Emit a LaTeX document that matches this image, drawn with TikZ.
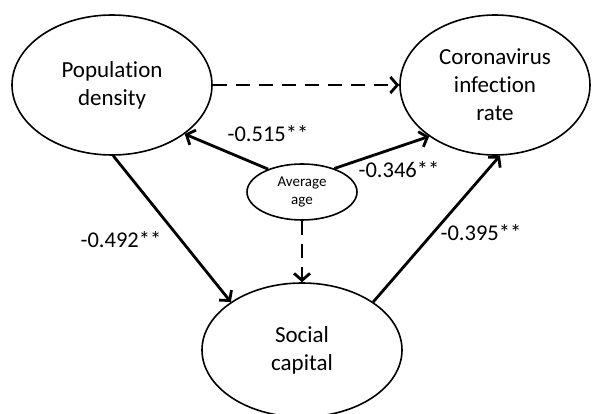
\documentclass[tikz,border=0pt]{standalone}
\usepackage{fontspec}
\setmainfont[Ligatures=NoCommon]{Carlito}
\usetikzlibrary{shapes.geometric,arrows.meta}
\begin{document}
\begin{tikzpicture}[x=1pt,y=-1pt,
  bigell/.style={ellipse,draw,line width=1.6pt,minimum width=200pt,minimum height=140pt,inner sep=0pt,align=center,font=\fontsize{23}{28}\selectfont},
  smallell/.style={ellipse,draw,line width=1.6pt,minimum width=110pt,minimum height=56pt,inner sep=0pt,align=center,font=\fontsize{15}{18}\selectfont},
  conn/.style={line width=2.8pt,-{Straight Barb[length=7pt,width=16pt]}},
  dconn/.style={conn,dash pattern=on 14pt off 9pt},
  lab/.style={font=\fontsize{22.5}{26}\selectfont,inner sep=0pt}]
\useasboundingbox (0,0) rectangle (592,414);
\node[bigell] (pd) at (112,85) {Population\\density};
\node[bigell,minimum width=190pt] (cv) at (495,85) {Coronavirus\\infection\\rate};
\node[bigell,minimum height=134pt] (sc) at (302,350) {Social\\capital};
\node[smallell] (avg) at (302,192) {Average\\age};
\draw[dconn] (pd) -- (cv);
\draw[conn] (avg.146) -- (pd.-34);
\draw[conn] (avg.36) -- (cv.218);
\draw[conn] (pd.-89) -- (sc.146);
\draw[conn] (sc.34) -- (cv.-86);
\draw[dconn] (avg.south) -- (sc.north);
\node[lab] (l1) at (268,134) {-0.515**};
\node[lab] (l2) at (399,170) {-0.346**};
\node[lab] (l3) at (121,240) {-0.492**};
\node[lab] (l4) at (481,233) {-0.395**};
\end{tikzpicture}
\end{document}
